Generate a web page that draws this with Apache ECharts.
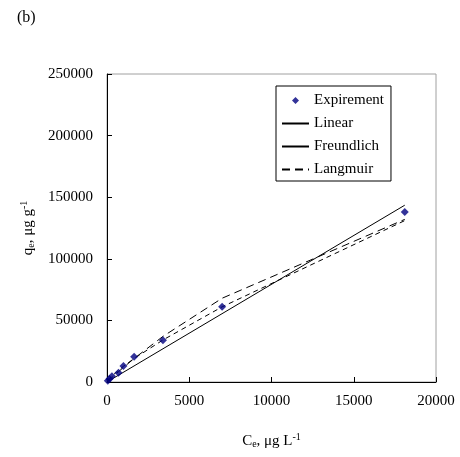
<!DOCTYPE html>
<html><head><meta charset="utf-8">
<script src="https://cdn.jsdelivr.net/npm/echarts@6/dist/echarts.min.js"></script>
<style>html,body{margin:0;padding:0;background:#fff}#c{width:460px;height:457px}</style>
</head><body><div id="c"></div>
<script>
// Data
const ceValues = [50, 150, 300, 700, 1000, 1650, 3400, 7000, 18100];
const qeExperiment = [1000, 2500, 4700, 7500, 13000, 20500, 33800, 61000, 138000];
const linearX = [0, 18100];
const linearY = [0, 143500];
const freundlichY = [1140, 2770, 4840, 9560, 12750, 19100, 34100, 61000, 131000];
const langmuirY = [610, 1830, 3640, 8380, 11830, 19080, 37000, 68000, 132000];
const xTicks = [0, 5000, 10000, 15000, 20000];
const yTicks = [0, 50000, 100000, 150000, 200000, 250000];

const font = 'Liberation Serif';
const zip = (xs, ys) => xs.map((x, i) => [x, ys[i]]);
const hideSym = {color: 'transparent', borderColor: 'transparent', opacity: 0};
const chart = echarts.init(document.getElementById('c'));
chart.setOption({
  animation: false,
  textStyle: {fontFamily: font},
  title: {text: '(b)', left: 12, top: 5, textStyle: {fontFamily: font, fontSize: 16, fontWeight: 'normal', color: '#000'}},
  grid: {left: 107, top: 74, right: 24, bottom: 75, show: true, borderColor: '#a0a0a0', borderWidth: 1},
  legend: {
    orient: 'vertical', left: 276, top: 86,
    borderColor: '#000', borderWidth: 1, padding: [7, 7, 4, 5],
    itemGap: 8, itemWidth: 27, itemHeight: 14,
    textStyle: {fontFamily: font, fontSize: 15, color: '#000'},
    data: [
      {name: 'Expirement', icon: 'path://M0,0L0.01,0L0,0.01Z M13.5,3.5L17,7L13.5,10.5L10,7Z M27,14L26.99,14L27,13.99Z'},
      {name: 'Linear', itemStyle: hideSym},
      {name: 'Freundlich', itemStyle: hideSym, lineStyle: {type: 'solid'}},
      {name: 'Langmuir', itemStyle: hideSym}
    ]
  },
  xAxis: {
    type: 'value', min: xTicks[0], max: xTicks[xTicks.length - 1], interval: 5000,
    splitLine: {show: false},
    axisLine: {lineStyle: {color: '#000', width: 1}},
    axisTick: {inside: true, length: 5, lineStyle: {color: '#000'}},
    axisLabel: {color: '#000', fontSize: 15, fontFamily: font, margin: 12, formatter: v => String(v)},
    name: 'C{sub|e}, μg L{sup|-1}', nameLocation: 'middle', nameGap: 50,
    nameTextStyle: {color: '#000', fontSize: 15, fontFamily: font,
      rich: {sub: {fontSize: 10, fontFamily: font, color: '#000', padding: [6, 0, 0, 0]},
             sup: {fontSize: 10, fontFamily: font, color: '#000', padding: [0, 0, 8, 0]}}}
  },
  yAxis: {
    type: 'value', min: yTicks[0], max: yTicks[yTicks.length - 1], interval: 50000,
    splitLine: {show: false},
    axisLine: {show: true, lineStyle: {color: '#000', width: 1}},
    axisTick: {show: true, inside: true, length: 5, lineStyle: {color: '#000'}},
    axisLabel: {color: '#000', fontSize: 15, fontFamily: font, margin: 14, formatter: v => String(v)},
    name: 'q{sub|e}, μg g{sup|-1}', nameLocation: 'middle', nameGap: 70, nameRotate: 90,
    nameTextStyle: {color: '#000', fontSize: 15, fontFamily: font,
      rich: {sub: {fontSize: 10, fontFamily: font, color: '#000', padding: [6, 0, 0, 0]},
             sup: {fontSize: 10, fontFamily: font, color: '#000', padding: [0, 0, 8, 0]}}}
  },
  series: [
    {name: 'Linear', type: 'line', data: zip(linearX, linearY), symbol: 'none',
     lineStyle: {color: '#000', width: 1}, itemStyle: {color: '#000'}, z: 2},
    {name: 'Freundlich', type: 'line', data: zip(ceValues, freundlichY), symbol: 'none',
     lineStyle: {color: '#000', width: 1, type: [5, 4]}, itemStyle: {color: '#000'}, z: 2},
    {name: 'Langmuir', type: 'line', data: zip([0].concat(ceValues), [0].concat(langmuirY)), symbol: 'none',
     lineStyle: {color: '#000', width: 1, type: [8, 5]}, itemStyle: {color: '#000'}, z: 2},
    {name: 'Expirement', type: 'scatter', data: zip(ceValues, qeExperiment), symbol: 'diamond', symbolSize: 8,
     itemStyle: {color: '#000080'}, z: 3}
  ]
});
</script></body></html>
